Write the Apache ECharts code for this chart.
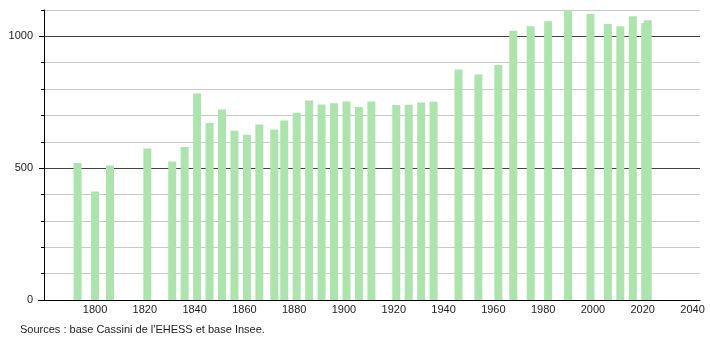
<!DOCTYPE html>
<html>
<head>
<meta charset="utf-8">
<script src="https://cdn.jsdelivr.net/npm/echarts@6/dist/echarts.min.js"></script>
<style>html,body{margin:0;padding:0;background:#fff}#c{width:710px;height:340px}</style>
</head>
<body>
<div id="c"></div>
<script>
const years = [1793,1800,1806,1821,1831,1836,1841,1846,1851,1856,1861,1866,1872,1876,1881,1886,1891,1896,1901,1906,1911,1921,1926,1931,1936,1946,1954,1962,1968,1975,1982,1990,1999,2006,2011,2016,2021,2022];
const population = [520,412,510,575,525,580,783,671,723,642,627,666,647,681,710,757,742,746,753,732,753,740,741,749,752,874,855,891,1021,1038,1057,1100,1085,1047,1038,1076,1051,1061];
const xTickLabels = [1800,1820,1840,1860,1880,1900,1920,1940,1960,1980,2000,2020,2040];
const yTickLabels = [0,500,1000];
const sourceText = "Sources : base Cassini de l'EHESS et base Insee.";

const chart = echarts.init(document.getElementById('c'));
const font = 'Liberation Sans, Arial, sans-serif';
const plain = v => String(Math.round(v));
chart.setOption({
  animation: false,
  grid: {left: 44, right: 10, top: 10, bottom: 40},
  title: {
    text: sourceText, left: 20, top: 324, padding: 0,
    textStyle: {fontSize: 11, fontWeight: 'normal', color: '#222', fontFamily: font}
  },
  xAxis: {
    type: 'value', min: 1779.5, max: 2043,
    axisLine: {show: true, lineStyle: {color: '#000', width: 1}},
    axisTick: {show: false},
    splitLine: {show: false},
    axisLabel: {
      customValues: xTickLabels, margin: 4, formatter: plain,
      fontSize: 11, color: '#222', fontFamily: font
    }
  },
  yAxis: [{
    type: 'value', min: 0, max: 1100, interval: 100,
    axisLine: {show: true, lineStyle: {color: '#000', width: 1}},
    axisTick: {show: true, length: 3, lineStyle: {color: '#000'}},
    splitLine: {show: true, lineStyle: {color: ['#444', '#c8c8c8', '#c8c8c8', '#c8c8c8', '#c8c8c8'], width: 1}},
    axisLabel: {show: false}
  }, {
    type: 'value', min: 0, max: 1100, position: 'left',
    axisLine: {show: false},
    axisTick: {show: true, length: 5, customValues: yTickLabels, lineStyle: {color: '#000'}},
    splitLine: {show: false},
    axisLabel: {
      customValues: yTickLabels, margin: 11, formatter: plain,
      fontSize: 11, color: '#222', fontFamily: font
    }
  }],
  graphic: [{
    type: 'line', shape: {x1: 38, y1: 300.5, x2: 44, y2: 300.5},
    style: {stroke: '#000', lineWidth: 1}
  }],
  series: [{
    type: 'bar',
    data: years.map((y, i) => [y, population[i]]),
    barWidth: 8,
    itemStyle: {color: '#ade3ad'}
  }]
});
</script>
</body>
</html>
